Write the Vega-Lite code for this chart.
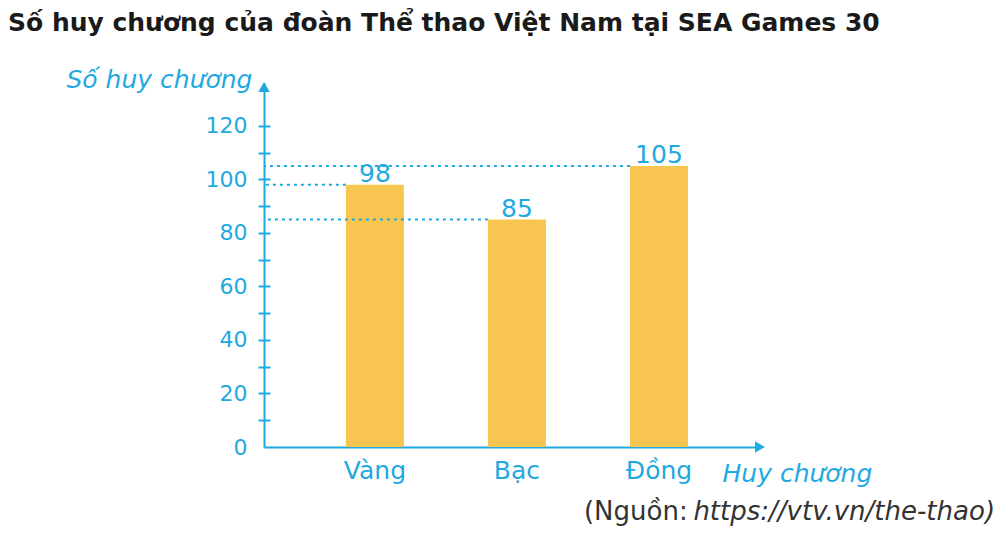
{
  "$schema": "https://vega.github.io/schema/vega-lite/v6.json",
  "width": 496,
  "height": 364,
  "autosize": {"type": "none"},
  "padding": {"left": 264, "top": 83, "right": 242, "bottom": 88},
  "background": "white",
  "title": {
    "text": "Số huy chương của đoàn Thể thao Việt Nam tại SEA Games 30",
    "anchor": "start",
    "frame": "group",
    "dx": -256,
    "dy": -7,
    "font": "DejaVu Sans",
    "fontWeight": "bold",
    "fontSize": 25,
    "color": "#1a1a1a",
    "baseline": "alphabetic"
  },
  "config": {"view": {"stroke": null}, "font": "DejaVu Sans"},
  "data": {
    "values": [
      {"loai": "Vàng", "so": 98},
      {"loai": "Bạc", "so": 85},
      {"loai": "Đồng", "so": 105}
    ]
  },
  "resolve": {"axis": {"y": "independent"}},
  "layer": [
    {
      "mark": {"type": "bar", "color": "#F8C551"},
      "encoding": {
        "x": {
          "field": "loai", "type": "nominal", "sort": null,
          "scale": {"paddingInner": 0.5915, "paddingOuter": 0.542, "align": 0.532},
          "axis": {
            "orient": "bottom",
            "title": "Huy chương", "titleFont": "DejaVu Sans", "titleFontStyle": "italic", "titleFontWeight": "normal",
            "titleFontSize": 25, "titleColor": "#1FA9E1", "titleX": 458, "titleY": 34,
            "titleAlign": "left", "titleBaseline": "alphabetic",
            "labelAngle": 0, "labelFontSize": 25, "labelColor": "#1FA9E1", "labelPadding": 11,
            "ticks": false, "domainColor": "#1FA9E1", "domainWidth": 2
          }
        },
        "y": {
          "field": "so", "type": "quantitative",
          "scale": {"domain": [0, 136], "nice": false, "zero": true},
          "axis": {
            "orient": "left",
            "title": "Số huy chương", "titleFontStyle": "italic", "titleFontWeight": "normal",
            "titleFontSize": 25, "titleColor": "#1FA9E1", "titleAngle": 0,
            "titleAlign": "right", "titleBaseline": "alphabetic", "titleX": -12, "titleY": 4,
            "values": [0, 10, 20, 30, 40, 50, 60, 70, 80, 90, 100, 110, 120],
            "labelExpr": "datum.value % 20 == 0 ? datum.label : ''",
            "labelFontSize": 22, "labelColor": "#1FA9E1", "labelPadding": 11,
            "tickSize": 6, "tickWidth": 2, "tickColor": "#1FA9E1",
            "tickOpacity": {"condition": {"test": "datum.value == 0", "value": 0}, "value": 1},
            "domainColor": "#1FA9E1", "domainWidth": 2, "grid": false
          }
        }
      }
    },
    {
      "mark": {"type": "rule", "color": "#1FA9E1", "strokeWidth": 2, "strokeDash": [3, 4]},
      "encoding": {
        "x": {"field": "loai", "type": "nominal", "sort": null, "bandPosition": 0},
        "x2": {"value": 0},
        "y": {
          "field": "so", "type": "quantitative",
          "axis": {
            "orient": "left", "domain": false, "labels": false, "title": null,
            "values": [10, 20, 30, 40, 50, 60, 70, 80, 90, 100, 110, 120],
            "tickSize": -6, "tickWidth": 2, "tickColor": "#1FA9E1", "grid": false
          }
        }
      }
    },
    {
      "mark": {"type": "text", "color": "#1FA9E1", "fontSize": 25, "baseline": "alphabetic", "dy": -3},
      "encoding": {
        "x": {"field": "loai", "type": "nominal", "sort": null},
        "y": {"field": "so", "type": "quantitative", "axis": null},
        "text": {"field": "so"}
      }
    },
    {
      "data": {"values": [{}]},
      "mark": {"type": "point", "shape": "triangle-up", "filled": true, "color": "#1FA9E1", "size": 130, "opacity": 1},
      "encoding": {
        "x": {"value": 0},
        "y": {"datum": 134.5, "type": "quantitative", "axis": null}
      }
    },
    {
      "data": {"values": [{}]},
      "mark": {"type": "point", "shape": "triangle-right", "filled": true, "color": "#1FA9E1", "size": 130, "opacity": 1},
      "encoding": {
        "x": {"value": {"expr": "width"}},
        "y": {"datum": 0, "type": "quantitative", "axis": null}
      }
    },
    {
      "data": {"values": [{}]},
      "mark": {"type": "text", "color": "#333333", "fontSize": 26, "align": "left", "baseline": "alphabetic", "text": "(Nguồn: "},
      "encoding": {
        "x": {"datum": "Đồng", "type": "nominal", "bandPosition": -0.793},
        "y": {"datum": -27.3, "type": "quantitative", "axis": null}
      }
    },
    {
      "data": {"values": [{}]},
      "mark": {"type": "text", "color": "#333333", "fontSize": 26, "fontStyle": "italic", "align": "right", "baseline": "alphabetic", "text": "https://vtv.vn/the-thao)"},
      "encoding": {
        "x": {"datum": "Đồng", "type": "nominal", "bandPosition": 6.293},
        "y": {"datum": -27.3, "type": "quantitative", "axis": null}
      }
    }
  ]
}
